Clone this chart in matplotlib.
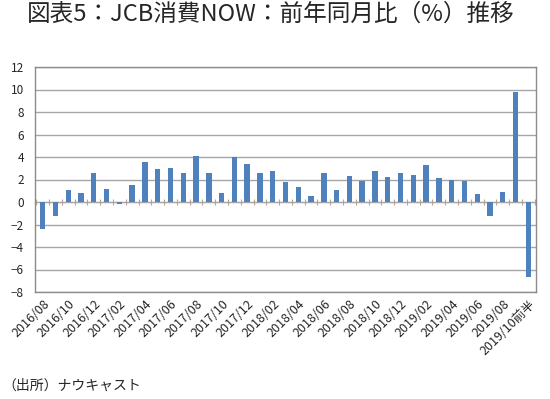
import matplotlib
matplotlib.use("Agg")
import matplotlib.pyplot as plt
import numpy as np

plt.rcParams['font.family'] = ['Noto Sans CJK JP', 'DejaVu Sans']

months = []
for y in (2016, 2017, 2018, 2019):
    for m in range(1, 13):
        if (y == 2016 and m < 8) or (y == 2019 and m > 9):
            continue
        months.append(f"{y}/{m:02d}")
categories = months + ["2019/10前半"]

values = [-2.4, -1.2, 1.1, 0.8, 2.6, 1.2, -0.2, 1.5, 3.6, 2.9,
          3.0, 2.6, 4.1, 2.6, 0.8, 4.0, 3.4, 2.6, 2.8, 1.8,
          1.3, 0.5, 2.6, 1.1, 2.3, 1.9, 2.8, 2.2, 2.6, 2.4,
          3.3, 2.1, 2.0, 1.9, 0.7, -1.2, 0.9, 9.8, -6.7]

title = "図表5：JCB消費NOW：前年同月比（%）推移"
source = "（出所）ナウキャスト"

fig = plt.figure(figsize=(5.5, 3.99), dpi=100)
ax = fig.add_axes([35/550, 1 - 292/399, (536-35)/550, (292-67)/399])

x = np.arange(len(categories))
ax.bar(x, values, width=0.42, color='#4F81BD', zorder=3)

ax.set_xlim(-0.6, len(categories) - 0.4)
ax.set_ylim(-8, 12)
ax.set_yticks(np.arange(-8, 13, 2))
ax.yaxis.grid(True, color='#A6A6A6', linewidth=1.0, zorder=0)
ax.tick_params(axis='y', length=0, labelsize=8.5, pad=8)
for lab in ax.get_yticklabels():
    lab.set_color('#262626')

ax.set_xticks(x[::2])
ax.set_xticklabels(categories[::2], rotation=45, ha='right',
                   rotation_mode='anchor', fontsize=9, color='#262626')
ax.tick_params(axis='x', length=0, pad=4)

for s in ax.spines.values():
    s.set_color('#8C8C8C')
    s.set_linewidth(1.0)

# zero axis with category boundary ticks
zero_frac = (0 - (-8)) / 20
sec = ax.secondary_xaxis(zero_frac)
sec.set_xticks(np.arange(-0.5, len(categories), 1.0))
sec.tick_params(axis='x', direction='inout', length=5, color='#C0A090',
                labelbottom=False, labeltop=False)
sec.spines['top'].set_color('#A6A6A6')
sec.spines['bottom'].set_color('#A6A6A6')

fig.text(27/550, 1 - 14/399, title, fontsize=17, va='center', ha='left', color='#262626')
fig.text(2/550, 1 - 386/399, source, fontsize=10, va='center', ha='left', color='#262626')

fig.savefig("out.png", dpi=100)
